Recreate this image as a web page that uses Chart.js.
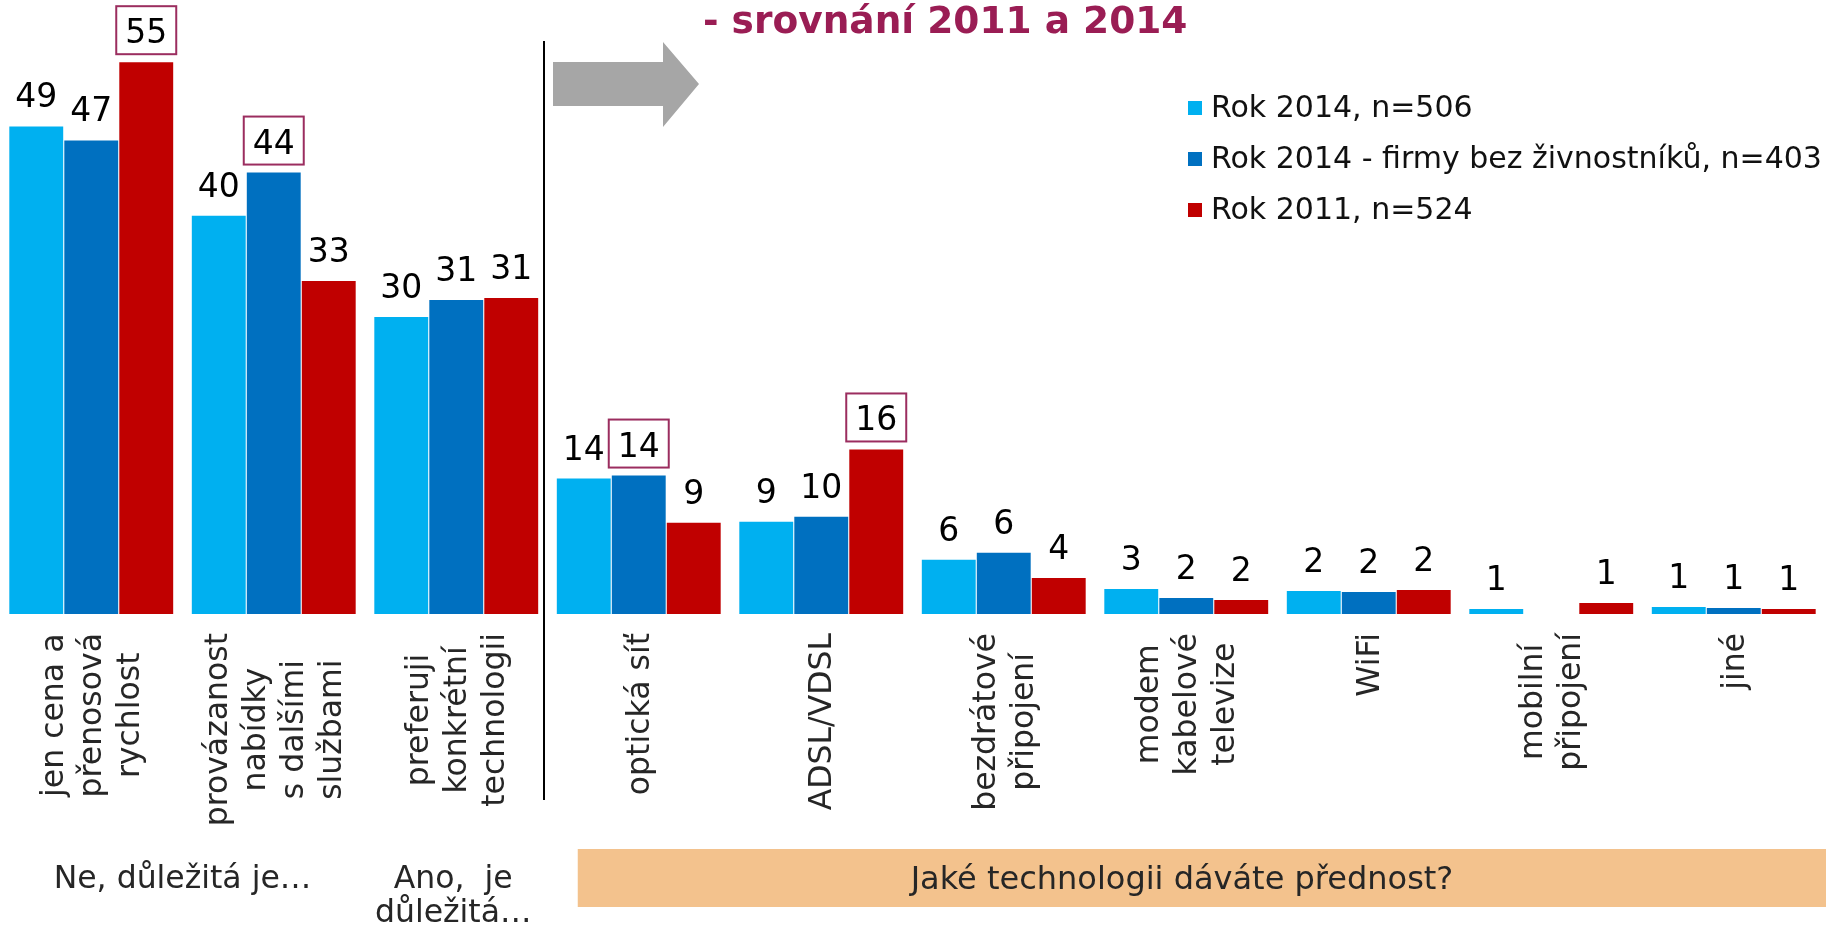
<!DOCTYPE html>
<html lang="cs">
<head>
<meta charset="UTF-8">
<title>Technologie - srovnání 2011 a 2014</title>
<script src="https://cdn.jsdelivr.net/npm/chart.js"></script>
<style>
  html, body { margin: 0; padding: 0; background: #fff; }
  #wrap { position: relative; width: 1835px; height: 932px; }
</style>
</head>
<body>
<div id="wrap"><canvas id="chart"></canvas></div>
<script>
// categories (multi-line labels split by |)
const categories = [
  'jen cena a|přenosová|rychlost',
  'provázanost|nabídky|s dalšími|službami',
  'preferuji|konkrétní|technologii',
  'optická síť',
  'ADSL/VDSL',
  'bezdrátové|připojení',
  'modem|kabelové|televize',
  'WiFi',
  'mobilní|připojení',
  'jiné'
];

const seriesNames = ['Rok 2014, n=506', 'Rok 2014 - firmy bez živnostníků, n=403', 'Rok 2011, n=524'];
const seriesColors = ['#00B0F0', '#0070C0', '#C00000'];

// bar heights
const rok2014 = [48.6, 39.7, 29.6, 13.5, 9.2, 5.4, 2.5, 2.3, 0.5, 0.7];
const firmy2014 = [47.2, 44.0, 31.3, 13.8, 9.7, 6.1, 1.6, 2.2, null, 0.6];
const rok2011 = [55.0, 33.2, 31.5, 9.1, 16.4, 3.6, 1.4, 2.4, 1.1, 0.5];

// printed value labels
const labels2014 = [49, 40, 30, 14, 9, 6, 3, 2, 1, 1];
const labelsFirmy = [47, 44, 31, 14, 10, 6, 2, 2, null, 1];
const labels2011 = [55, 33, 31, 9, 16, 4, 2, 2, 1, 1];

// labels drawn with a frame
const framed2014 = [];
const framedFirmy = [1, 3];
const framed2011 = [0, 4];

const title = '- srovnání 2011 a 2014';
const groupLeft = 'Ne, důležitá je…';
const groupMid = ['Ano,  je', 'důležitá…'];
const groupRight = 'Jaké technologii dáváte přednost?';

const valueLabels = [labels2014, labelsFirmy, labels2011];
const framed = [framed2014, framedFirmy, framed2011];
const FONT = '"DejaVu Sans", Verdana, sans-serif';

const decor = {
  id: 'decor',
  afterDatasetsDraw(chart) {
    const { ctx, scales: { x } } = chart;
    ctx.save();

    // value labels
    ctx.font = '33px ' + FONT;
    ctx.textAlign = 'center';
    ctx.textBaseline = 'alphabetic';
    chart.data.datasets.forEach((ds, di) => {
      const meta = chart.getDatasetMeta(di);
      meta.data.forEach((bar, i) => {
        const txt = valueLabels[di][i];
        if (txt == null) return;
        const by = bar.y - 19;
        if (framed[di].includes(i)) {
          const w = ctx.measureText(String(txt)).width + 18;
          ctx.fillStyle = '#fff';
          ctx.fillRect(bar.x - w / 2, by - 37, w, 48);
          ctx.strokeStyle = '#9B2D5F';
          ctx.lineWidth = 2;
          ctx.strokeRect(bar.x - w / 2, by - 37, w, 48);
        }
        ctx.fillStyle = '#000';
        ctx.fillText(String(txt), bar.x, by);
      });
    });

    // category labels, rotated
    ctx.font = '31.5px ' + FONT;
    ctx.fillStyle = '#262626';
    ctx.textAlign = 'center';
    ctx.textBaseline = 'middle';
    categories.forEach((c, i) => {
      const lines = c.split('|');
      const maxW = Math.max(...lines.map(l => ctx.measureText(l).width));
      const cx = x.getPixelForValue(i);
      ctx.save();
      ctx.translate(cx, 633 + maxW / 2);
      ctx.rotate(-Math.PI / 2);
      lines.forEach((l, li) => {
        ctx.fillText(l, 0, (li - (lines.length - 1) / 2) * 38 + 2);
      });
      ctx.restore();
    });

    // separator + arrow
    const sepX = (x.getPixelForValue(2) + x.getPixelForValue(3)) / 2 - 3.5;
    ctx.strokeStyle = '#000';
    ctx.lineWidth = 2;
    ctx.beginPath();
    ctx.moveTo(sepX, 41);
    ctx.lineTo(sepX, 800);
    ctx.stroke();

    const ax = sepX + 9;
    ctx.fillStyle = '#A6A6A6';
    ctx.beginPath();
    ctx.moveTo(ax, 62);
    ctx.lineTo(ax + 110, 62);
    ctx.lineTo(ax + 110, 42);
    ctx.lineTo(ax + 146, 84);
    ctx.lineTo(ax + 110, 127);
    ctx.lineTo(ax + 110, 106);
    ctx.lineTo(ax, 106);
    ctx.closePath();
    ctx.fill();

    // title
    ctx.font = 'bold 37.5px ' + FONT;
    ctx.fillStyle = '#9A1D54';
    ctx.textAlign = 'left';
    ctx.textBaseline = 'alphabetic';
    ctx.fillText(title, 703, 33);

    // legend
    ctx.font = '30px ' + FONT;
    ctx.textBaseline = 'middle';
    seriesNames.forEach((name, i) => {
      const y = 108 + i * 51;
      ctx.fillStyle = seriesColors[i];
      ctx.fillRect(1188, y - 7, 14, 14);
      ctx.fillStyle = '#111';
      ctx.fillText(name, 1211, y + 1);
    });

    // group captions
    ctx.fillStyle = '#262626';
    ctx.textAlign = 'center';
    ctx.textBaseline = 'alphabetic';
    ctx.font = '31.5px ' + FONT;
    ctx.fillText(groupLeft, (x.getPixelForValue(0) + x.getPixelForValue(1)) / 2, 888);
    const midX = x.getPixelForValue(2) - 3;
    ctx.fillText(groupMid[0], midX, 888);
    ctx.fillText(groupMid[1], midX, 922);

    const boxL = x.getPixelForValue(3) - 61;
    const boxR = x.right + 1;
    ctx.fillStyle = '#F3C28D';
    ctx.fillRect(boxL, 849, boxR - boxL, 58);
    ctx.fillStyle = '#262626';
    ctx.font = '32px ' + FONT;
    ctx.fillText(groupRight, 1182, 889);

    ctx.restore();
  }
};

new Chart(document.getElementById('chart'), {
  type: 'bar',
  data: {
    labels: categories,
    datasets: [
      { label: seriesNames[0], data: rok2014, backgroundColor: seriesColors[0] },
      { label: seriesNames[1], data: firmy2014, backgroundColor: seriesColors[1] },
      { label: seriesNames[2], data: rok2011, backgroundColor: seriesColors[2] }
    ]
  },
  options: {
    responsive: true,
    maintainAspectRatio: false,
    animation: false,
    devicePixelRatio: 1,
    layout: { padding: { top: 2, bottom: 318, left: 0, right: 10 } },
    datasets: { bar: { categoryPercentage: 0.904, barPercentage: 0.98, borderWidth: 0 } },
    plugins: { legend: { display: false }, tooltip: { enabled: false } },
    scales: {
      x: { display: false, grid: { display: false } },
      y: { display: false, min: 0, max: 61, grid: { display: false } }
    }
  },
  plugins: [decor]
});
</script>
</body>
</html>
